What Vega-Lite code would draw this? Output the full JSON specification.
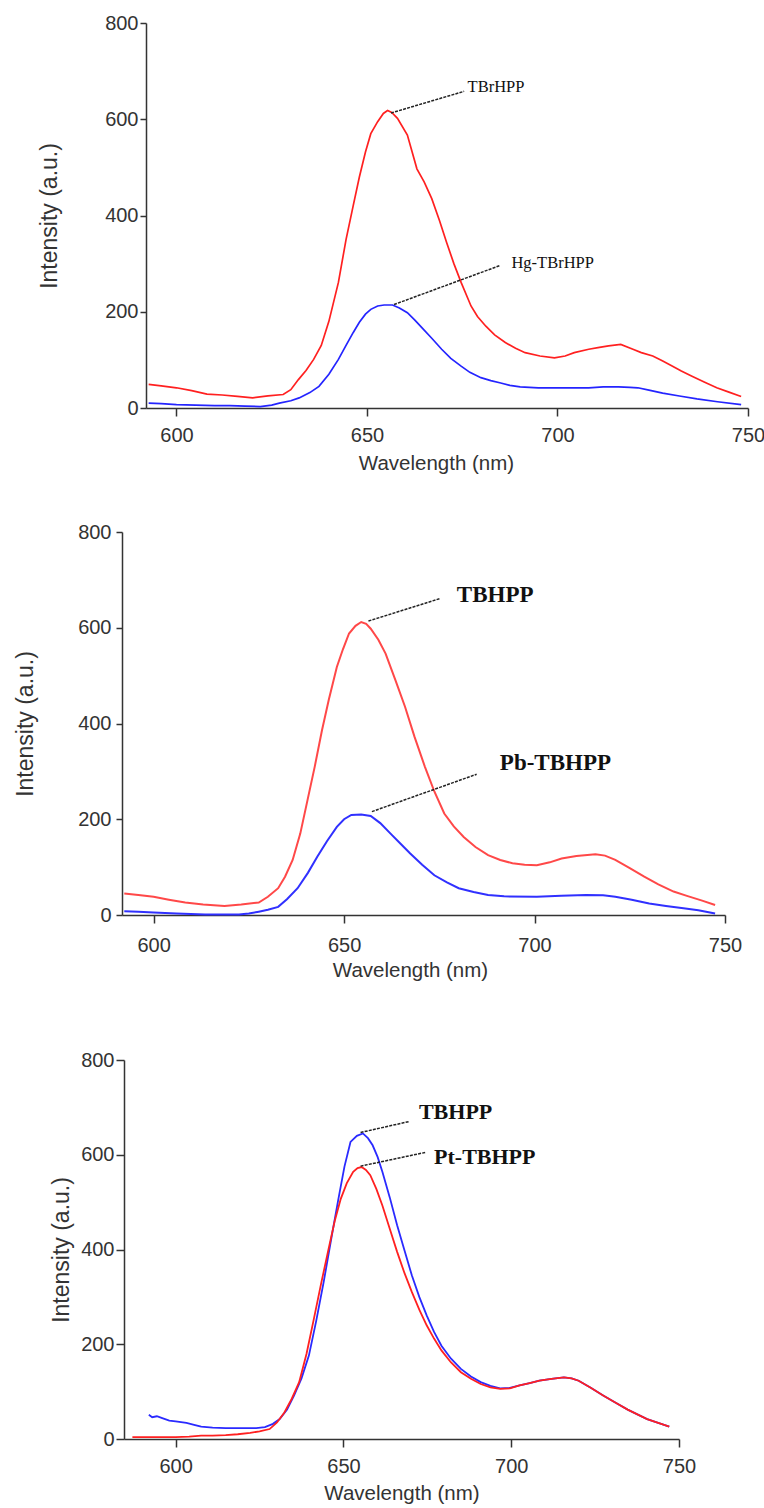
{
  "$schema": "https://vega.github.io/schema/vega-lite/v6.json",
  "padding": {"left": 13, "top": 13, "right": 0, "bottom": 0},
  "background": "white",
  "config": {
    "view": {"stroke": null},
    "concat": {"spacing": 0},
    "axis": {"grid": false, "domainColor": "#333", "tickColor": "#333", "domainWidth": 1.5, "tickWidth": 1.5, "labelFont": "Liberation Sans, sans-serif", "labelFontSize": 20, "labelColor": "#333", "titleFontWeight": "normal", "titleColor": "#333", "labelFlush": false, "labelOverlap": false},
    "axisX": {"tickSize": 8, "titleFont": "Liberation Sans, sans-serif", "titleFontSize": 20.5},
    "axisY": {"tickSize": 6, "titleFont": "Liberation Sans, sans-serif", "titleFontSize": 23}
  },
  "datasets": {
    "p1": [
      {"wl":592.7,"v":49,"s":"TBrHPP"},{"wl":596,"v":46,"s":"TBrHPP"},{"wl":600,"v":42,"s":"TBrHPP"},{"wl":604,"v":36,"s":"TBrHPP"},{"wl":608,"v":29,"s":"TBrHPP"},{"wl":612,"v":27,"s":"TBrHPP"},{"wl":616,"v":24,"s":"TBrHPP"},{"wl":620,"v":21,"s":"TBrHPP"},{"wl":624,"v":25,"s":"TBrHPP"},{"wl":628,"v":28,"s":"TBrHPP"},{"wl":630,"v":38,"s":"TBrHPP"},{"wl":632,"v":59,"s":"TBrHPP"},{"wl":634,"v":78,"s":"TBrHPP"},{"wl":636,"v":101,"s":"TBrHPP"},{"wl":638,"v":130,"s":"TBrHPP"},{"wl":640,"v":180,"s":"TBrHPP"},{"wl":642.5,"v":261,"s":"TBrHPP"},{"wl":644.5,"v":350,"s":"TBrHPP"},{"wl":646.4,"v":421,"s":"TBrHPP"},{"wl":648,"v":480,"s":"TBrHPP"},{"wl":649.6,"v":532,"s":"TBrHPP"},{"wl":651,"v":570,"s":"TBrHPP"},{"wl":652.8,"v":595,"s":"TBrHPP"},{"wl":654.3,"v":612,"s":"TBrHPP"},{"wl":655.4,"v":618,"s":"TBrHPP"},{"wl":656.5,"v":614,"s":"TBrHPP"},{"wl":658,"v":602,"s":"TBrHPP"},{"wl":660.6,"v":567,"s":"TBrHPP"},{"wl":663.1,"v":497,"s":"TBrHPP"},{"wl":665,"v":470,"s":"TBrHPP"},{"wl":667,"v":435,"s":"TBrHPP"},{"wl":669,"v":390,"s":"TBrHPP"},{"wl":670.9,"v":344,"s":"TBrHPP"},{"wl":672.8,"v":300,"s":"TBrHPP"},{"wl":674.7,"v":261,"s":"TBrHPP"},{"wl":677.3,"v":212,"s":"TBrHPP"},{"wl":679,"v":190,"s":"TBrHPP"},{"wl":681.2,"v":170,"s":"TBrHPP"},{"wl":683.5,"v":152,"s":"TBrHPP"},{"wl":686.3,"v":136,"s":"TBrHPP"},{"wl":689,"v":124,"s":"TBrHPP"},{"wl":691.5,"v":115,"s":"TBrHPP"},{"wl":695.4,"v":108,"s":"TBrHPP"},{"wl":699.2,"v":104,"s":"TBrHPP"},{"wl":702,"v":108,"s":"TBrHPP"},{"wl":704.4,"v":115,"s":"TBrHPP"},{"wl":708.2,"v":122,"s":"TBrHPP"},{"wl":711,"v":126,"s":"TBrHPP"},{"wl":713.4,"v":129,"s":"TBrHPP"},{"wl":716.6,"v":132,"s":"TBrHPP"},{"wl":719.8,"v":122,"s":"TBrHPP"},{"wl":722,"v":115,"s":"TBrHPP"},{"wl":725,"v":108,"s":"TBrHPP"},{"wl":727.5,"v":98,"s":"TBrHPP"},{"wl":730.2,"v":87,"s":"TBrHPP"},{"wl":732.5,"v":77,"s":"TBrHPP"},{"wl":735.3,"v":66,"s":"TBrHPP"},{"wl":738.5,"v":54,"s":"TBrHPP"},{"wl":741.8,"v":42,"s":"TBrHPP"},{"wl":745,"v":33,"s":"TBrHPP"},{"wl":748.2,"v":24,"s":"TBrHPP"},
      {"wl":592.7,"v":10,"s":"Hg-TBrHPP"},{"wl":596,"v":9,"s":"Hg-TBrHPP"},{"wl":600,"v":7,"s":"Hg-TBrHPP"},{"wl":605,"v":6,"s":"Hg-TBrHPP"},{"wl":610,"v":5,"s":"Hg-TBrHPP"},{"wl":614,"v":5,"s":"Hg-TBrHPP"},{"wl":618,"v":4,"s":"Hg-TBrHPP"},{"wl":622,"v":3,"s":"Hg-TBrHPP"},{"wl":625,"v":6,"s":"Hg-TBrHPP"},{"wl":627,"v":10,"s":"Hg-TBrHPP"},{"wl":630,"v":15,"s":"Hg-TBrHPP"},{"wl":632.2,"v":21,"s":"Hg-TBrHPP"},{"wl":635,"v":32,"s":"Hg-TBrHPP"},{"wl":637.4,"v":45,"s":"Hg-TBrHPP"},{"wl":640,"v":70,"s":"Hg-TBrHPP"},{"wl":642.5,"v":101,"s":"Hg-TBrHPP"},{"wl":644.5,"v":130,"s":"Hg-TBrHPP"},{"wl":646.4,"v":157,"s":"Hg-TBrHPP"},{"wl":648,"v":178,"s":"Hg-TBrHPP"},{"wl":649.6,"v":195,"s":"Hg-TBrHPP"},{"wl":651,"v":205,"s":"Hg-TBrHPP"},{"wl":652.8,"v":212,"s":"Hg-TBrHPP"},{"wl":654.5,"v":214,"s":"Hg-TBrHPP"},{"wl":656.7,"v":214,"s":"Hg-TBrHPP"},{"wl":658.5,"v":208,"s":"Hg-TBrHPP"},{"wl":660.6,"v":198,"s":"Hg-TBrHPP"},{"wl":662.5,"v":183,"s":"Hg-TBrHPP"},{"wl":664.4,"v":167,"s":"Hg-TBrHPP"},{"wl":667,"v":145,"s":"Hg-TBrHPP"},{"wl":669.6,"v":122,"s":"Hg-TBrHPP"},{"wl":672,"v":103,"s":"Hg-TBrHPP"},{"wl":674.7,"v":87,"s":"Hg-TBrHPP"},{"wl":677,"v":74,"s":"Hg-TBrHPP"},{"wl":679.9,"v":63,"s":"Hg-TBrHPP"},{"wl":682.5,"v":57,"s":"Hg-TBrHPP"},{"wl":685.1,"v":52,"s":"Hg-TBrHPP"},{"wl":687.5,"v":47,"s":"Hg-TBrHPP"},{"wl":690.2,"v":44,"s":"Hg-TBrHPP"},{"wl":695,"v":42,"s":"Hg-TBrHPP"},{"wl":700.5,"v":42,"s":"Hg-TBrHPP"},{"wl":705,"v":42,"s":"Hg-TBrHPP"},{"wl":708.2,"v":42,"s":"Hg-TBrHPP"},{"wl":712,"v":44,"s":"Hg-TBrHPP"},{"wl":716,"v":44,"s":"Hg-TBrHPP"},{"wl":719,"v":43,"s":"Hg-TBrHPP"},{"wl":721.1,"v":42,"s":"Hg-TBrHPP"},{"wl":724,"v":37,"s":"Hg-TBrHPP"},{"wl":727.6,"v":31,"s":"Hg-TBrHPP"},{"wl":732,"v":25,"s":"Hg-TBrHPP"},{"wl":736.6,"v":19,"s":"Hg-TBrHPP"},{"wl":742,"v":13,"s":"Hg-TBrHPP"},{"wl":748.2,"v":7,"s":"Hg-TBrHPP"}
    ],
    "p2": [
      {"wl":592.3,"v":45,"s":"TBHPP"},{"wl":596,"v":42,"s":"TBHPP"},{"wl":600,"v":38,"s":"TBHPP"},{"wl":604,"v":32,"s":"TBHPP"},{"wl":608.3,"v":26,"s":"TBHPP"},{"wl":613,"v":22,"s":"TBHPP"},{"wl":618.6,"v":19,"s":"TBHPP"},{"wl":623,"v":22,"s":"TBHPP"},{"wl":627.6,"v":26,"s":"TBHPP"},{"wl":630,"v":38,"s":"TBHPP"},{"wl":632.7,"v":56,"s":"TBHPP"},{"wl":634.5,"v":80,"s":"TBHPP"},{"wl":636.5,"v":115,"s":"TBHPP"},{"wl":638.5,"v":170,"s":"TBHPP"},{"wl":640.4,"v":240,"s":"TBHPP"},{"wl":642.3,"v":310,"s":"TBHPP"},{"wl":644.2,"v":386,"s":"TBHPP"},{"wl":646,"v":450,"s":"TBHPP"},{"wl":648.1,"v":518,"s":"TBHPP"},{"wl":649.7,"v":555,"s":"TBHPP"},{"wl":651.3,"v":588,"s":"TBHPP"},{"wl":653,"v":604,"s":"TBHPP"},{"wl":654.5,"v":612,"s":"TBHPP"},{"wl":655.8,"v":608,"s":"TBHPP"},{"wl":657,"v":598,"s":"TBHPP"},{"wl":659,"v":575,"s":"TBHPP"},{"wl":660.9,"v":546,"s":"TBHPP"},{"wl":663.5,"v":490,"s":"TBHPP"},{"wl":666,"v":435,"s":"TBHPP"},{"wl":668.5,"v":372,"s":"TBHPP"},{"wl":671.2,"v":310,"s":"TBHPP"},{"wl":673.7,"v":258,"s":"TBHPP"},{"wl":676.3,"v":212,"s":"TBHPP"},{"wl":678.8,"v":185,"s":"TBHPP"},{"wl":681.4,"v":163,"s":"TBHPP"},{"wl":684.5,"v":142,"s":"TBHPP"},{"wl":687.8,"v":125,"s":"TBHPP"},{"wl":691,"v":115,"s":"TBHPP"},{"wl":694.2,"v":108,"s":"TBHPP"},{"wl":697.4,"v":105,"s":"TBHPP"},{"wl":700.6,"v":104,"s":"TBHPP"},{"wl":704,"v":110,"s":"TBHPP"},{"wl":707.1,"v":118,"s":"TBHPP"},{"wl":711,"v":123,"s":"TBHPP"},{"wl":716,"v":127,"s":"TBHPP"},{"wl":718.5,"v":124,"s":"TBHPP"},{"wl":721.2,"v":115,"s":"TBHPP"},{"wl":725,"v":98,"s":"TBHPP"},{"wl":728.8,"v":80,"s":"TBHPP"},{"wl":732.5,"v":64,"s":"TBHPP"},{"wl":736.5,"v":49,"s":"TBHPP"},{"wl":740,"v":40,"s":"TBHPP"},{"wl":744,"v":30,"s":"TBHPP"},{"wl":747.4,"v":21,"s":"TBHPP"},
      {"wl":592.3,"v":8,"s":"Pb-TBHPP"},{"wl":596,"v":7,"s":"Pb-TBHPP"},{"wl":600,"v":5,"s":"Pb-TBHPP"},{"wl":606,"v":3,"s":"Pb-TBHPP"},{"wl":613.5,"v":1,"s":"Pb-TBHPP"},{"wl":618,"v":1,"s":"Pb-TBHPP"},{"wl":622.4,"v":1,"s":"Pb-TBHPP"},{"wl":625,"v":3,"s":"Pb-TBHPP"},{"wl":627.6,"v":7,"s":"Pb-TBHPP"},{"wl":630,"v":11,"s":"Pb-TBHPP"},{"wl":632.7,"v":17,"s":"Pb-TBHPP"},{"wl":635,"v":33,"s":"Pb-TBHPP"},{"wl":637.8,"v":56,"s":"Pb-TBHPP"},{"wl":640.5,"v":88,"s":"Pb-TBHPP"},{"wl":643,"v":122,"s":"Pb-TBHPP"},{"wl":645.5,"v":154,"s":"Pb-TBHPP"},{"wl":648.1,"v":184,"s":"Pb-TBHPP"},{"wl":650,"v":200,"s":"Pb-TBHPP"},{"wl":651.9,"v":209,"s":"Pb-TBHPP"},{"wl":654.5,"v":210,"s":"Pb-TBHPP"},{"wl":657,"v":207,"s":"Pb-TBHPP"},{"wl":659.5,"v":192,"s":"Pb-TBHPP"},{"wl":662.2,"v":170,"s":"Pb-TBHPP"},{"wl":664.7,"v":150,"s":"Pb-TBHPP"},{"wl":667.3,"v":129,"s":"Pb-TBHPP"},{"wl":670.5,"v":105,"s":"Pb-TBHPP"},{"wl":673.7,"v":83,"s":"Pb-TBHPP"},{"wl":677,"v":68,"s":"Pb-TBHPP"},{"wl":680.1,"v":56,"s":"Pb-TBHPP"},{"wl":684,"v":48,"s":"Pb-TBHPP"},{"wl":687.8,"v":42,"s":"Pb-TBHPP"},{"wl":692,"v":39,"s":"Pb-TBHPP"},{"wl":700.6,"v":38,"s":"Pb-TBHPP"},{"wl":707,"v":40,"s":"Pb-TBHPP"},{"wl":713.5,"v":42,"s":"Pb-TBHPP"},{"wl":718,"v":41,"s":"Pb-TBHPP"},{"wl":721.2,"v":38,"s":"Pb-TBHPP"},{"wl":725.5,"v":32,"s":"Pb-TBHPP"},{"wl":730.1,"v":24,"s":"Pb-TBHPP"},{"wl":734.5,"v":19,"s":"Pb-TBHPP"},{"wl":739.1,"v":14,"s":"Pb-TBHPP"},{"wl":743,"v":10,"s":"Pb-TBHPP"},{"wl":747.4,"v":3,"s":"Pb-TBHPP"}
    ],
    "p3": [
      {"wl":592,"v":51,"s":"TBHPP"},{"wl":593,"v":46,"s":"TBHPP"},{"wl":594.4,"v":48,"s":"TBHPP"},{"wl":596,"v":44,"s":"TBHPP"},{"wl":598.1,"v":39,"s":"TBHPP"},{"wl":600,"v":37,"s":"TBHPP"},{"wl":603.2,"v":34,"s":"TBHPP"},{"wl":605.5,"v":30,"s":"TBHPP"},{"wl":607.6,"v":26,"s":"TBHPP"},{"wl":611,"v":24,"s":"TBHPP"},{"wl":614.9,"v":23,"s":"TBHPP"},{"wl":620,"v":23,"s":"TBHPP"},{"wl":624,"v":23,"s":"TBHPP"},{"wl":626.6,"v":25,"s":"TBHPP"},{"wl":629,"v":32,"s":"TBHPP"},{"wl":631,"v":42,"s":"TBHPP"},{"wl":633.2,"v":62,"s":"TBHPP"},{"wl":635.3,"v":92,"s":"TBHPP"},{"wl":637.5,"v":128,"s":"TBHPP"},{"wl":639.7,"v":176,"s":"TBHPP"},{"wl":641.9,"v":250,"s":"TBHPP"},{"wl":644.1,"v":331,"s":"TBHPP"},{"wl":646.3,"v":420,"s":"TBHPP"},{"wl":648.5,"v":507,"s":"TBHPP"},{"wl":650.3,"v":575,"s":"TBHPP"},{"wl":652.1,"v":627,"s":"TBHPP"},{"wl":654,"v":640,"s":"TBHPP"},{"wl":655.8,"v":645,"s":"TBHPP"},{"wl":657.3,"v":635,"s":"TBHPP"},{"wl":658.7,"v":620,"s":"TBHPP"},{"wl":660.2,"v":595,"s":"TBHPP"},{"wl":661.6,"v":564,"s":"TBHPP"},{"wl":663.8,"v":510,"s":"TBHPP"},{"wl":666,"v":451,"s":"TBHPP"},{"wl":668.2,"v":398,"s":"TBHPP"},{"wl":670.4,"v":345,"s":"TBHPP"},{"wl":672.6,"v":300,"s":"TBHPP"},{"wl":674.8,"v":261,"s":"TBHPP"},{"wl":677,"v":226,"s":"TBHPP"},{"wl":679.2,"v":197,"s":"TBHPP"},{"wl":682,"v":170,"s":"TBHPP"},{"wl":685,"v":148,"s":"TBHPP"},{"wl":688,"v":132,"s":"TBHPP"},{"wl":690.9,"v":120,"s":"TBHPP"},{"wl":693.8,"v":112,"s":"TBHPP"},{"wl":696.7,"v":107,"s":"TBHPP"},{"wl":699.6,"v":108,"s":"TBHPP"},{"wl":702.5,"v":113,"s":"TBHPP"},{"wl":705.5,"v":118,"s":"TBHPP"},{"wl":708.4,"v":123,"s":"TBHPP"},{"wl":712,"v":127,"s":"TBHPP"},{"wl":715.7,"v":130,"s":"TBHPP"},{"wl":718,"v":128,"s":"TBHPP"},{"wl":720.1,"v":123,"s":"TBHPP"},{"wl":723.7,"v":108,"s":"TBHPP"},{"wl":727.4,"v":92,"s":"TBHPP"},{"wl":731,"v":77,"s":"TBHPP"},{"wl":734.7,"v":62,"s":"TBHPP"},{"wl":737.6,"v":52,"s":"TBHPP"},{"wl":740.5,"v":42,"s":"TBHPP"},{"wl":743.8,"v":34,"s":"TBHPP"},{"wl":747.1,"v":26,"s":"TBHPP"},
      {"wl":587.1,"v":4,"s":"Pt-TBHPP"},{"wl":592,"v":4,"s":"Pt-TBHPP"},{"wl":596,"v":4,"s":"Pt-TBHPP"},{"wl":600,"v":4,"s":"Pt-TBHPP"},{"wl":604,"v":5,"s":"Pt-TBHPP"},{"wl":607.6,"v":7,"s":"Pt-TBHPP"},{"wl":611,"v":7,"s":"Pt-TBHPP"},{"wl":614.9,"v":8,"s":"Pt-TBHPP"},{"wl":618.5,"v":10,"s":"Pt-TBHPP"},{"wl":622.2,"v":13,"s":"Pt-TBHPP"},{"wl":625,"v":16,"s":"Pt-TBHPP"},{"wl":628,"v":21,"s":"Pt-TBHPP"},{"wl":630.2,"v":35,"s":"Pt-TBHPP"},{"wl":632.4,"v":56,"s":"Pt-TBHPP"},{"wl":634.6,"v":85,"s":"Pt-TBHPP"},{"wl":636.8,"v":120,"s":"Pt-TBHPP"},{"wl":639,"v":180,"s":"Pt-TBHPP"},{"wl":641.2,"v":254,"s":"Pt-TBHPP"},{"wl":643.4,"v":330,"s":"Pt-TBHPP"},{"wl":645.6,"v":402,"s":"Pt-TBHPP"},{"wl":647.4,"v":460,"s":"Pt-TBHPP"},{"wl":649.2,"v":507,"s":"Pt-TBHPP"},{"wl":651,"v":540,"s":"Pt-TBHPP"},{"wl":652.9,"v":564,"s":"Pt-TBHPP"},{"wl":654.2,"v":572,"s":"Pt-TBHPP"},{"wl":655.4,"v":574,"s":"Pt-TBHPP"},{"wl":656.7,"v":568,"s":"Pt-TBHPP"},{"wl":658,"v":557,"s":"Pt-TBHPP"},{"wl":659.8,"v":528,"s":"Pt-TBHPP"},{"wl":661.6,"v":493,"s":"Pt-TBHPP"},{"wl":663.8,"v":444,"s":"Pt-TBHPP"},{"wl":666,"v":395,"s":"Pt-TBHPP"},{"wl":668.2,"v":350,"s":"Pt-TBHPP"},{"wl":670.4,"v":310,"s":"Pt-TBHPP"},{"wl":672.6,"v":273,"s":"Pt-TBHPP"},{"wl":674.8,"v":240,"s":"Pt-TBHPP"},{"wl":677,"v":212,"s":"Pt-TBHPP"},{"wl":679.2,"v":187,"s":"Pt-TBHPP"},{"wl":682,"v":162,"s":"Pt-TBHPP"},{"wl":685,"v":141,"s":"Pt-TBHPP"},{"wl":688,"v":127,"s":"Pt-TBHPP"},{"wl":690.9,"v":116,"s":"Pt-TBHPP"},{"wl":693.8,"v":109,"s":"Pt-TBHPP"},{"wl":696.7,"v":106,"s":"Pt-TBHPP"},{"wl":699.6,"v":107,"s":"Pt-TBHPP"},{"wl":702.5,"v":113,"s":"Pt-TBHPP"},{"wl":705.5,"v":118,"s":"Pt-TBHPP"},{"wl":708.4,"v":123,"s":"Pt-TBHPP"},{"wl":712,"v":127,"s":"Pt-TBHPP"},{"wl":715.7,"v":130,"s":"Pt-TBHPP"},{"wl":718,"v":128,"s":"Pt-TBHPP"},{"wl":720.1,"v":123,"s":"Pt-TBHPP"},{"wl":723.7,"v":108,"s":"Pt-TBHPP"},{"wl":727.4,"v":92,"s":"Pt-TBHPP"},{"wl":731,"v":77,"s":"Pt-TBHPP"},{"wl":734.7,"v":62,"s":"Pt-TBHPP"},{"wl":737.6,"v":52,"s":"Pt-TBHPP"},{"wl":740.5,"v":42,"s":"Pt-TBHPP"},{"wl":743.8,"v":34,"s":"Pt-TBHPP"},{"wl":747.1,"v":26,"s":"Pt-TBHPP"}
    ],
    "a1": [
      {"label":"TBrHPP","xa":656.3,"ya":613,"xb":675.5,"yb":658,"tx":676.4,"ty":668},
      {"label":"Hg-TBrHPP","xa":657.1,"ya":215,"xb":684.9,"yb":296,"tx":687.9,"ty":301}
    ],
    "a2": [
      {"label":"TBHPP","xa":656.4,"ya":614,"xb":675.2,"yb":661,"tx":679.6,"ty":668},
      {"label":"Pb-TBHPP","xa":657.3,"ya":216,"xb":684.8,"yb":294,"tx":690.9,"ty":317}
    ],
    "a3": [
      {"label":"TBHPP","xa":655.1,"ya":647,"xb":669.5,"yb":670,"tx":672.5,"ty":690},
      {"label":"Pt-TBHPP","xa":655.1,"ya":576,"xb":674.5,"yb":605,"tx":677,"ty":596}
    ]
  },
  "spacing": 48,
  "resolve": {"scale": {"color": "independent"}},
  "vconcat": [
    {
      "spacing": 0,
      "resolve": {"scale": {"color": "independent"}},
      "hconcat": [
        {"width": 25, "height": 2, "data": {"values": []}, "mark": "point"},
        {
          "width": 602, "height": 385,
          "layer": [
            {
              "data": {"name": "p1"},
              "mark": {"type": "line", "strokeWidth": 1.7},
              "encoding": {
                "x": {"field": "wl", "type": "quantitative", "scale": {"domain": [592, 750], "nice": false, "zero": false}, "axis": {"values": [600, 650, 700, 750], "labelPadding": 9, "titlePadding": 8, "titleX": 290}, "title": "Wavelength (nm)"},
                "y": {"field": "v", "type": "quantitative", "scale": {"domain": [0, 800], "nice": false}, "axis": {"values": [0, 200, 400, 600, 800], "labelPadding": 2, "titlePadding": 43}, "title": "Intensity (a.u.)"},
                "color": {"field": "s", "type": "nominal", "scale": {"domain": ["TBrHPP", "Hg-TBrHPP"], "range": ["#ff2020", "#2424ff"]}, "legend": null}
              }
            },
            {
              "data": {"name": "a1"},
              "mark": {"type": "rule", "color": "#222", "strokeWidth": 1.5, "strokeDash": [3, 1.2]},
              "encoding": {"x": {"field": "xa", "type": "quantitative"}, "y": {"field": "ya", "type": "quantitative"}, "x2": {"field": "xb"}, "y2": {"field": "yb"}}
            },
            {
              "data": {"name": "a1"},
              "mark": {"type": "text", "align": "left", "baseline": "middle", "font": "Liberation Serif, serif", "fontSize": 16.5, "color": "#111"},
              "encoding": {"x": {"field": "tx", "type": "quantitative"}, "y": {"field": "ty", "type": "quantitative"}, "text": {"field": "label"}}
            }
          ]
        }
      ]
    },
    {
      "spacing": 69,
      "resolve": {"scale": {"color": "independent"}},
      "vconcat": [
        {
          "spacing": 0,
          "resolve": {"scale": {"color": "independent"}},
          "hconcat": [
            {"width": 1, "height": 2, "data": {"values": []}, "mark": "point"},
            {
              "width": 603, "height": 383,
              "layer": [
                {
                  "data": {"name": "p2"},
                  "mark": {"type": "line", "strokeWidth": 2},
                  "encoding": {
                    "x": {"field": "wl", "type": "quantitative", "scale": {"domain": [591.7, 750], "nice": false, "zero": false}, "axis": {"values": [600, 650, 700, 750], "labelPadding": 12, "titlePadding": 5, "titleX": 288}, "title": "Wavelength (nm)"},
                    "y": {"field": "v", "type": "quantitative", "scale": {"domain": [0, 800], "nice": false}, "axis": {"values": [0, 200, 400, 600, 800], "labelPadding": 5, "titlePadding": 40}, "title": "Intensity (a.u.)"},
                    "color": {"field": "s", "type": "nominal", "scale": {"domain": ["TBHPP", "Pb-TBHPP"], "range": ["#ff4848", "#3030ff"]}, "legend": null}
                  }
                },
                {
                  "data": {"name": "a2"},
                  "mark": {"type": "rule", "color": "#222", "strokeWidth": 1.5, "strokeDash": [3, 1.2]},
                  "encoding": {"x": {"field": "xa", "type": "quantitative"}, "y": {"field": "ya", "type": "quantitative"}, "x2": {"field": "xb"}, "y2": {"field": "yb"}}
                },
                {
                  "data": {"name": "a2"},
                  "mark": {"type": "text", "align": "left", "baseline": "middle", "font": "Liberation Serif, serif", "fontSize": 23, "fontWeight": "bold", "color": "#111"},
                  "encoding": {"x": {"field": "tx", "type": "quantitative"}, "y": {"field": "ty", "type": "quantitative"}, "text": {"field": "label"}}
                }
              ]
            }
          ]
        },
        {
          "spacing": 0,
          "resolve": {"scale": {"color": "independent"}},
          "hconcat": [
            {"width": 37, "height": 2, "data": {"values": []}, "mark": "point"},
            {
              "width": 555, "height": 379,
              "layer": [
                {
                  "data": {"name": "p3"},
                  "mark": {"type": "line", "strokeWidth": 1.8},
                  "encoding": {
                    "x": {"field": "wl", "type": "quantitative", "scale": {"domain": [584.6, 750], "nice": false, "zero": false}, "axis": {"values": [600, 650, 700, 750], "labelPadding": 9, "titlePadding": 7}, "title": "Wavelength (nm)"},
                    "y": {"field": "v", "type": "quantitative", "scale": {"domain": [0, 800], "nice": false}, "axis": {"values": [0, 200, 400, 600, 800], "tickSize": 8, "labelPadding": 2, "titlePadding": 7}, "title": "Intensity (a.u.)"},
                    "color": {"field": "s", "type": "nominal", "scale": {"domain": ["TBHPP", "Pt-TBHPP"], "range": ["#2a2aff", "#ff2020"]}, "legend": null}
                  }
                },
                {
                  "data": {"name": "a3"},
                  "mark": {"type": "rule", "color": "#222", "strokeWidth": 1.5, "strokeDash": [3, 1.2]},
                  "encoding": {"x": {"field": "xa", "type": "quantitative"}, "y": {"field": "ya", "type": "quantitative"}, "x2": {"field": "xb"}, "y2": {"field": "yb"}}
                },
                {
                  "data": {"name": "a3"},
                  "mark": {"type": "text", "align": "left", "baseline": "middle", "font": "Liberation Serif, serif", "fontSize": 22, "fontWeight": "bold", "color": "#111"},
                  "encoding": {"x": {"field": "tx", "type": "quantitative"}, "y": {"field": "ty", "type": "quantitative"}, "text": {"field": "label"}}
                }
              ]
            }
          ]
        }
      ]
    }
  ]
}
